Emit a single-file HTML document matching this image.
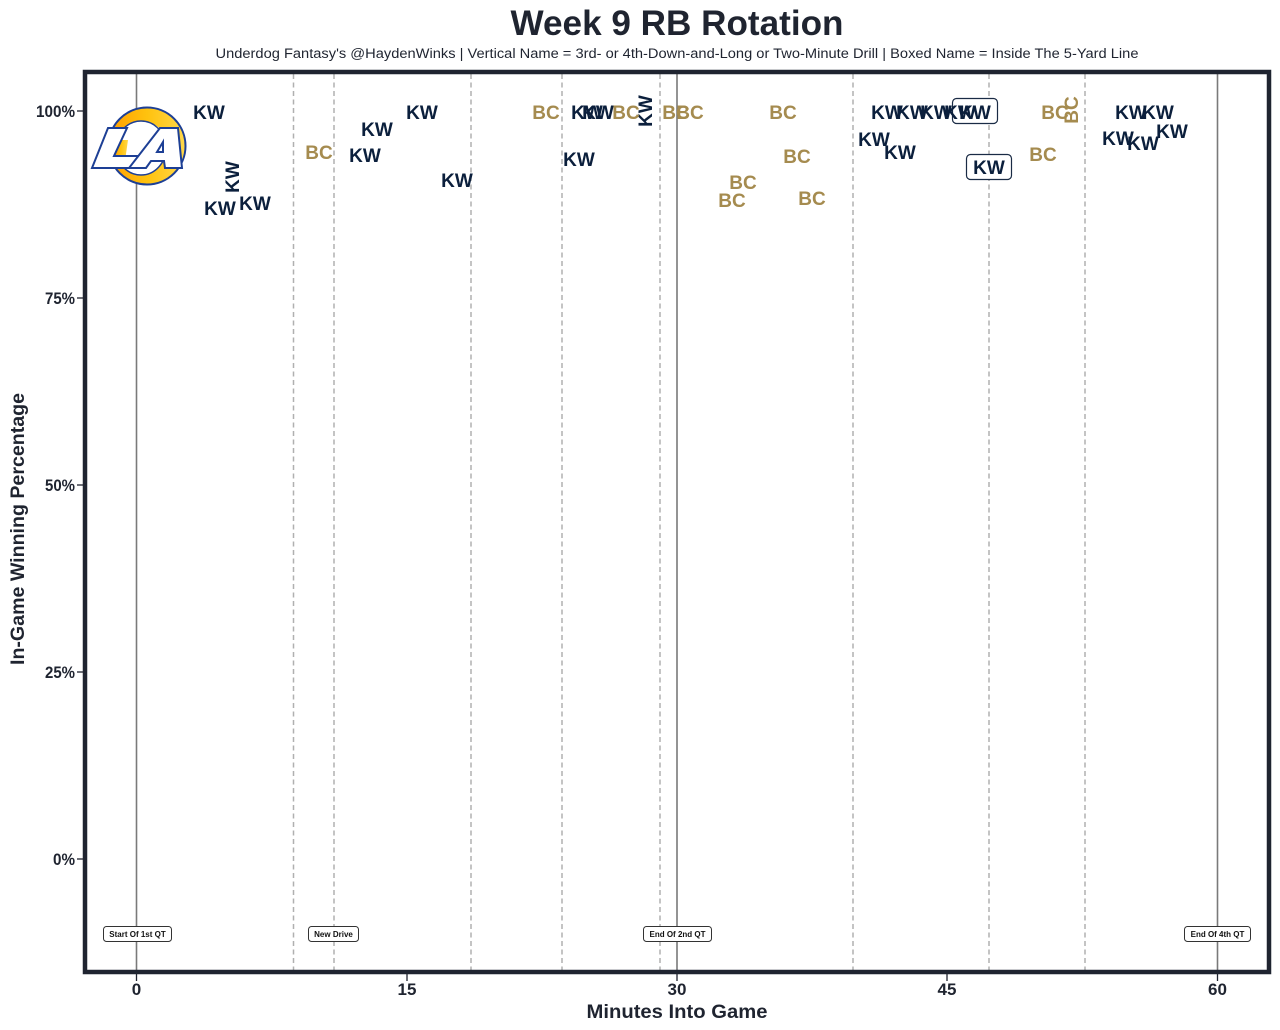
<!DOCTYPE html>
<html><head><meta charset="utf-8"><style>
html,body{margin:0;padding:0;background:#fff;}
svg{display:block;}
text{font-family:"Liberation Sans",Arial,sans-serif;}
.kw{fill:#0b1f3c;font-weight:bold;font-size:19px;text-anchor:middle;}
.bc{fill:#a58b4f;font-weight:bold;font-size:19px;text-anchor:middle;}
.tk{fill:#1f2430;font-weight:bold;font-size:17px;}
.an{fill:#111;font-weight:bold;font-size:8px;text-anchor:middle;}
</style></head><body>
<svg width="1280" height="1030" viewBox="0 0 1280 1030" xmlns="http://www.w3.org/2000/svg">
<defs>
<linearGradient id="horn" x1="0" y1="0" x2="1" y2="0">
<stop offset="0" stop-color="#FF9E00"/>
<stop offset="0.5" stop-color="#FFC20E"/>
<stop offset="1" stop-color="#FFD84A"/>
</linearGradient>
</defs>
<rect width="1280" height="1030" fill="#fff"/>
<!-- title -->
<text x="677" y="35" text-anchor="middle" font-size="35" font-weight="bold" fill="#1f2430" textLength="333" lengthAdjust="spacingAndGlyphs">Week 9 RB Rotation</text>
<text x="677" y="58" text-anchor="middle" font-size="13.5" fill="#1f2430" textLength="923" lengthAdjust="spacingAndGlyphs">Underdog Fantasy's @HaydenWinks | Vertical Name = 3rd- or 4th-Down-and-Long or Two-Minute Drill | Boxed Name = Inside The 5-Yard Line</text>

<!-- vertical lines -->
<g stroke="#b0b0b0" stroke-width="1.5" stroke-dasharray="5,3.5">
<line x1="293.5" y1="74" x2="293.5" y2="970"/>
<line x1="334" y1="74" x2="334" y2="970"/>
<line x1="471" y1="74" x2="471" y2="970"/>
<line x1="562" y1="74" x2="562" y2="970"/>
<line x1="660" y1="74" x2="660" y2="970"/>
<line x1="853" y1="74" x2="853" y2="970"/>
<line x1="989" y1="74" x2="989" y2="970"/>
<line x1="1085" y1="74" x2="1085" y2="970"/>
</g>
<g stroke="#7a7a7a" stroke-width="1.6">
<line x1="136.5" y1="74" x2="136.5" y2="970"/>
<line x1="677" y1="74" x2="677" y2="970"/>
<line x1="1217.5" y1="74" x2="1217.5" y2="970"/>
</g>

<!-- frame -->
<rect x="85" y="72" width="1184" height="900" fill="none" stroke="#1f2430" stroke-width="4.5"/>

<!-- ticks -->
<g stroke="#1f2430" stroke-width="1.3">
<line x1="77" y1="111" x2="83" y2="111"/>
<line x1="77" y1="298" x2="83" y2="298"/>
<line x1="77" y1="485" x2="83" y2="485"/>
<line x1="77" y1="672" x2="83" y2="672"/>
<line x1="77" y1="859" x2="83" y2="859"/>
<line x1="136.5" y1="974" x2="136.5" y2="981"/>
<line x1="407" y1="974" x2="407" y2="981"/>
<line x1="677" y1="974" x2="677" y2="981"/>
<line x1="947" y1="974" x2="947" y2="981"/>
<line x1="1217.5" y1="974" x2="1217.5" y2="981"/>
</g>
<g class="tk" text-anchor="end">
<text x="75" y="117" textLength="39" lengthAdjust="spacingAndGlyphs">100%</text>
<text x="75" y="304" textLength="30" lengthAdjust="spacingAndGlyphs">75%</text>
<text x="75" y="491" textLength="30" lengthAdjust="spacingAndGlyphs">50%</text>
<text x="75" y="678" textLength="30" lengthAdjust="spacingAndGlyphs">25%</text>
<text x="75" y="865" textLength="22" lengthAdjust="spacingAndGlyphs">0%</text>
</g>
<g class="tk" text-anchor="middle">
<text x="136.5" y="995">0</text>
<text x="407" y="995">15</text>
<text x="677" y="995">30</text>
<text x="947" y="995">45</text>
<text x="1217.5" y="995">60</text>
</g>
<text x="677" y="1018" text-anchor="middle" font-size="19" font-weight="bold" fill="#1f2430" textLength="181" lengthAdjust="spacingAndGlyphs">Minutes Into Game</text>
<text transform="translate(24,529) rotate(-90)" x="0" y="0" text-anchor="middle" font-size="19" font-weight="bold" fill="#1f2430" textLength="272" lengthAdjust="spacingAndGlyphs">In-Game Winning Percentage</text>

<!-- annotations -->
<g fill="#fff" stroke="#333" stroke-width="1">
<rect x="103.5" y="926.5" width="68" height="15" rx="3"/>
<rect x="308.5" y="926.5" width="50" height="15" rx="3"/>
<rect x="643.5" y="926.5" width="68" height="15" rx="3"/>
<rect x="1184.5" y="926.5" width="66" height="15" rx="3"/>
</g>
<g class="an">
<text x="137.5" y="937">Start Of 1st QT</text>
<text x="333.5" y="937">New Drive</text>
<text x="677.5" y="937">End Of 2nd QT</text>
<text x="1217.5" y="937">End Of 4th QT</text>
</g>

<!-- logo -->
<g>
<circle cx="147" cy="146" r="38.5" fill="url(#horn)" stroke="#1d3f95" stroke-width="2"/>
<ellipse cx="141" cy="148" rx="25" ry="27" fill="#fff" stroke="#1d3f95" stroke-width="1.5"/>
<path fill="#d0d0d0" d="M155,125 A25,27 0 0,1 164,160 A21,24 0 0,0 155,125 Z"/>
<path fill="url(#horn)" d="M118,140 L128,140 L124,168 L114,168 Z"/>
<path fill="#fff" stroke="#1d3f95" stroke-width="2" d="M108,128 L127,128 L114,156 L141,156 L136,168 L92,168 Z"/>
<path fill="#fff" stroke="#1d3f95" stroke-width="2" fill-rule="evenodd" d="M160,128 L178,128 L182,168 L165,168 L164,161 L151,161 L146,168 L129,168 Z M163,142 L163,152 L157,152 Z"/>
</g>

<!-- boxes -->
<g fill="#fff" stroke="#1a2b45" stroke-width="1.2">
<rect x="952.5" y="98.5" width="45" height="25" rx="4"/>
<rect x="966.5" y="154.5" width="45" height="25" rx="4"/>
</g>

<!-- labels -->
<g class="kw">
<text x="209" y="119">KW</text>
<text x="377" y="136">KW</text>
<text x="422" y="119">KW</text>
<text x="365" y="162">KW</text>
<text x="457" y="187">KW</text>
<text x="220" y="215">KW</text>
<text x="255" y="210">KW</text>
<text transform="translate(232,177) rotate(-90)" x="0" y="7">KW</text>
<text x="587" y="119">KW</text>
<text x="598" y="119">KW</text>
<text x="579" y="166">KW</text>
<text transform="translate(645,111) rotate(-90)" x="0" y="7">KW</text>
<text x="887" y="119">KW</text>
<text x="912" y="119">KW</text>
<text x="936" y="119">KW</text>
<text x="960" y="119">KW</text>
<text x="975" y="119">KW</text>
<text x="874" y="146">KW</text>
<text x="900" y="159">KW</text>
<text x="989" y="174">KW</text>
<text x="1131" y="119">KW</text>
<text x="1158" y="119">KW</text>
<text x="1118" y="145">KW</text>
<text x="1143" y="150">KW</text>
<text x="1172" y="138">KW</text>
</g>
<g class="bc">
<text x="319" y="159">BC</text>
<text x="546" y="119">BC</text>
<text x="626" y="119">BC</text>
<text x="676" y="119">BC</text>
<text x="690" y="119">BC</text>
<text x="783" y="119">BC</text>
<text x="797" y="163">BC</text>
<text x="743" y="189">BC</text>
<text x="732" y="207">BC</text>
<text x="812" y="205">BC</text>
<text x="1055" y="119">BC</text>
<text transform="translate(1071,110) rotate(-90)" x="0" y="7">BC</text>
<text x="1043" y="161">BC</text>
</g>
</svg>
</body></html>
